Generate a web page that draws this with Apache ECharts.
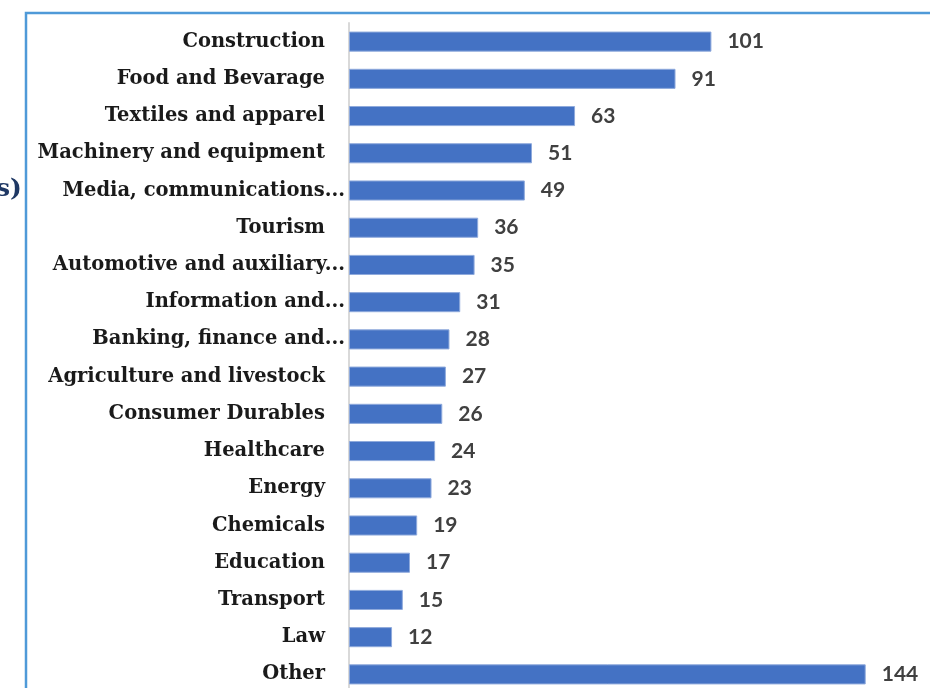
<!DOCTYPE html>
<html>
<head>
<meta charset="utf-8">
<script src="https://cdn.jsdelivr.net/npm/echarts@6/dist/echarts.min.js"></script>
<style>
  html, body { margin: 0; padding: 0; background: #fff; }
  #main { width: 930px; height: 688px; }
</style>
</head>
<body>
<div id="main"></div>
<script>
// 行业分类和数量
var categories = [
  'Construction', 'Food and Bevarage', 'Textiles and apparel', 'Machinery and equipment',
  'Media, communications...', 'Tourism', 'Automotive and auxiliary...', 'Information and...',
  'Banking, finance and...', 'Agriculture and livestock', 'Consumer Durables', 'Healthcare',
  'Energy', 'Chemicals', 'Education', 'Transport', 'Law', 'Other'
];
var counts = [101, 91, 63, 51, 49, 36, 35, 31, 28, 27, 26, 24, 23, 19, 17, 15, 12, 144];

var myChart = echarts.init(document.getElementById('main'));

var option = {
  backgroundColor: '#fff',
  animation: false,
  graphic: [
    {
      type: 'polyline',
      shape: { points: [[26, 688], [26, 13], [930, 13]] },
      style: { stroke: '#4f9ad8', lineWidth: 2.5, fill: null }
    },
    {
      // 标题被截掉的一部分
      type: 'text',
      left: -4,
      top: 177,
      style: {
        text: 's)',
        fill: '#1f3864',
        font: 'bold 25px "DejaVu Serif"'
      }
    }
  ],
  grid: {
    left: 349,
    right: 32,
    top: 23,
    height: 670,
    outerBoundsMode: 'none',
    containLabel: false
  },
  xAxis: {
    type: 'value',
    min: 0,
    max: 153,
    show: false
  },
  yAxis: {
    type: 'category',
    inverse: true,
    data: categories,
    axisTick: { show: false },
    axisLine: { show: true, lineStyle: { color: '#d9d9d9', width: 2 } },
    axisLabel: {
      margin: 4,
      formatter: function (name) {
        // 被截断的标签更靠右
        if (name.indexOf('...') > -1) {
          return '{e|' + name + '}';
        }
        return '{n|' + name + '}';
      },
      rich: {
        n: {
          fontFamily: 'DejaVu Serif',
          fontWeight: 'bold',
          fontSize: 19.5,
          color: '#1a1a1a',
          padding: [0, 20, 0, 0]
        },
        e: {
          fontFamily: 'DejaVu Serif',
          fontWeight: 'bold',
          fontSize: 19.5,
          color: '#1a1a1a'
        }
      }
    }
  },
  series: [
    {
      type: 'bar',
      data: counts,
      barCategoryGap: '46%',
      itemStyle: {
        color: '#4472c4',
        borderColor: '#8faadc',
        borderWidth: 1
      },
      label: {
        show: true,
        position: 'right',
        distance: 16,
        color: '#404040',
        fontFamily: 'Lato',
        fontWeight: 'bold',
        fontSize: 21
      }
    }
  ]
};

myChart.setOption(option);
</script>
</body>
</html>
